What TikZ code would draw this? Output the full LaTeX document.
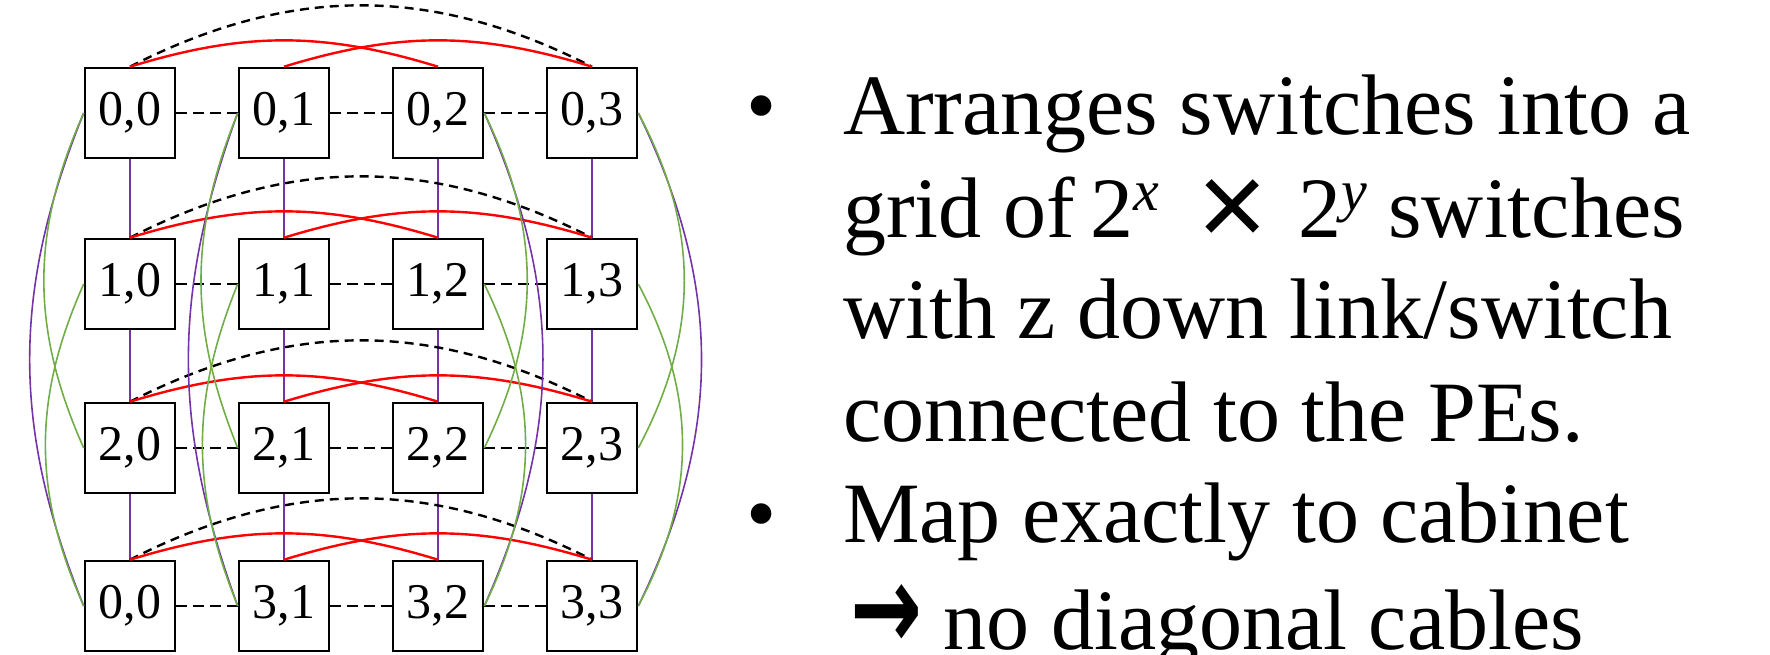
\documentclass[tikz,border=0pt]{standalone}
\usepackage{fontspec}
\setmainfont{Liberation Serif}
\newfontfamily\sansfnt{Liberation Sans}
\newfontfamily\arrowfnt{DejaVu Sans}

\definecolor{cablepurple}{RGB}{116,52,168}
\definecolor{cablegreen}{RGB}{112,173,71}

% superscript exponent for the grid size
\newcommand{\expo}[1]{\raisebox{0.32em}{\fontsize{58}{58}\selectfont\itshape #1}}
% large multiplication sign between the exponents
\newcommand{\bigtimes}{\raisebox{-9pt}{\scalebox{1.4}{\sansfnt ×}}}

\tikzset{
  switch/.style={draw, line width=2.6pt, fill=white, minimum width=90pt,
    minimum height=90pt, inner sep=0pt, font=\fontsize{50}{50}\selectfont},
  rowlink/.style={line width=2.2pt, dash pattern=on 11pt off 6pt},
  collink/.style={cablepurple, line width=1.6pt},
  hoptwo/.style={red, line width=2.4pt},
  hopthree/.style={line width=2.4pt, dash pattern=on 9pt off 6pt},
  vhoptwo/.style={cablegreen, line width=1.6pt},
  vhopthree/.style={cablepurple, line width=1.6pt},
  bullettext/.style={anchor=base west, inner sep=0pt, font=\fontsize{86}{86}\selectfont},
  bulletdot/.style={anchor=base, inner sep=0pt, font=\fontsize{86}{86}\selectfont},
}

\begin{document}
\begin{tikzpicture}[x=1pt, y=1pt]
  \useasboundingbox (0,0) rectangle (1770,655);

  % 4x4 grid of switches (bottom left one is labelled 0,0)
  \foreach \r/\y in {0/542, 1/371, 2/207, 3/49}
    \foreach \c/\x in {0/130, 1/284, 2/438, 3/592}
      \node[switch] (s\r\c) at (\x,\y) {\ifnum\r\c=30 0\else\r\fi,\c};

  % nearest neighbour links: dashed along rows, purple along columns
  \foreach \r in {0,...,3}
    \foreach \c/\n in {0/1, 1/2, 2/3} {
      \draw[rowlink] (s\r\c) -- (s\r\n);
      \draw[collink] (s\c\r) -- (s\n\r);
    }

  % longer links above each row
  \foreach \r in {0,...,3} {
    \draw[hopthree] (s\r0.north) to[bend left=27] (s\r3.north);
    \draw[hoptwo] (s\r0.north) to[bend left=17] (s\r2.north);
    \draw[hoptwo] (s\r1.north) to[bend left=17] (s\r3.north);
  }

  % longer links beside each column: left of columns 0,1, right of 2,3
  \foreach \c/\side/\outer/\inner in {0/west/-22/-24, 1/west/-20/-22,
                                      2/east/24/26, 3/east/26/28} {
    \draw[vhopthree] (s0\c.\side) to[bend left=\outer] (s3\c.\side);
    \draw[vhoptwo] (s0\c.\side) to[bend left=\inner] (s2\c.\side);
    \draw[vhoptwo] (s1\c.\side) to[bend left=\inner] (s3\c.\side);
  }

  % bullet points
  \node[bulletdot] (b1) at (762,520) {\textbullet};
  \node[bullettext] (t1) at (843,520) {Arranges switches into a};
  \node[bullettext] (t2) at (843,417)
    {grid of\hspace{0.18em}2\expo{x}\hspace{0.45em}\bigtimes\hspace{0.35em}2\expo{y} switches};
  \node[bullettext] (t3) at (843,316) {with z down link/switch};
  \node[bullettext] (t4) at (843,213) {connected to the PEs.};
  \node[bulletdot] (b2) at (762,112) {\textbullet};
  \node[bullettext] (t5) at (843,112) {Map exactly to cabinet};
  \node[bullettext] (t6) at (850,5)
    {\scalebox{1}[1.4]{\arrowfnt\bfseries →} no diagonal cables};
\end{tikzpicture}
\end{document}
